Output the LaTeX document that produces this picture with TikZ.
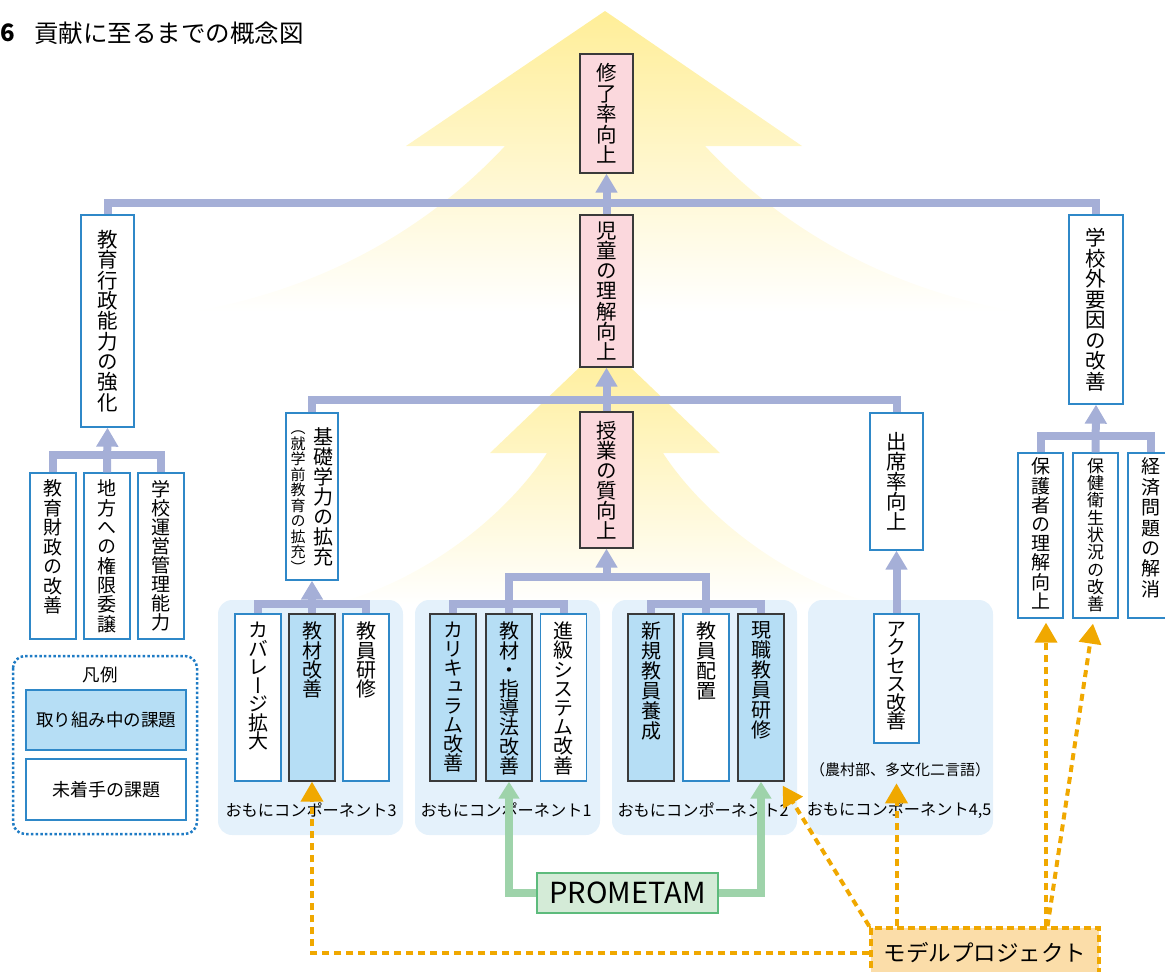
\documentclass[tikz,border=0pt]{standalone}
\usepackage{fontspec}
\setmainfont{Noto Sans CJK JP}
\newfontfamily\vjp[RawFeature=+vert]{Noto Sans CJK JP}
\usetikzlibrary{arrows.meta,calc}
\definecolor{conn}{HTML}{A5AFD7}
\definecolor{bfill}{HTML}{B6DEF5}
\definecolor{bline}{HTML}{2F88C8}
\definecolor{legb}{HTML}{1E7BC4}
\definecolor{pinkf}{HTML}{FBD8DD}
\definecolor{grpbg}{HTML}{E4F1FB}
\definecolor{ylw}{HTML}{FFEE98}
\definecolor{orng}{HTML}{F0A800}
\definecolor{orngf}{HTML}{FBDDA9}
\definecolor{grn}{HTML}{9ED3AA}
\definecolor{grnf}{HTML}{D4EBD7}
\definecolor{grnl}{HTML}{5DBB7C}
\definecolor{darkb}{HTML}{3A3A3A}
\def\vtl#1{\ifx\relax#1\else\hbox to 1em{\hss#1\hss}\expandafter\vtl\fi}
\newcommand\vt[2]{\vtop{\baselineskip=#1\lineskiplimit=-\maxdimen\lineskip=0pt\vtl#2\relax}}
\newcommand\vtt[3]{\vtop to #2{\baselineskip=#1\lineskiplimit=-\maxdimen\lineskip=0pt\vtl#3\relax\vfill}}
\tikzset{
  box/.style={draw, line width=1.3pt, inner sep=0pt, minimum width=46pt},
  pinkbox/.style={box, fill=pinkf, draw=darkb, minimum width=53pt},
  wbig/.style={box, fill=white, draw=bline, minimum width=53pt},
  wbox/.style={box, fill=white, draw=bline},
  bbox/.style={box, fill=bfill, draw=darkb},
  bigf/.style={font=\vjp\fontsize{20.5pt}{21pt}\selectfont},
  chf/.style={font=\vjp\fontsize{19pt}{19pt}\selectfont},
  cpf/.style={font=\vjp\fontsize{20pt}{20pt}\selectfont},
  lbl/.style={font=\fontsize{16.2pt}{17pt}\selectfont, inner sep=0pt},
  cn/.style={draw=conn, line width=8pt},
  cnar/.style={cn, -{Triangle[width=21pt,length=19pt]}},
  og/.style={draw=orng, line width=4pt, dash pattern=on 7pt off 5pt},
  ogar/.style={og, -{Triangle[width=22pt,length=20pt]}},
  gn/.style={draw=grn, line width=8pt},
  gnar/.style={gn, -{Triangle[width=20pt,length=17pt]}},
}
\begin{document}
\begin{tikzpicture}[x=1pt,y=-1pt]
\useasboundingbox (0,0) rectangle (1165,972);
% background trees
\shade[top color=ylw, bottom color=white] (605,11) -- (802,146) -- (705,146) .. controls (760,205) and (860,285) .. (1020,312) -- (190,312) .. controls (350,285) and (450,205) .. (505,146) -- (406,146) -- cycle;
\shade[top color=ylw, bottom color=white] (605,343) -- (720,453) -- (663,453) .. controls (700,510) and (780,580) .. (880,605) -- (330,605) .. controls (430,580) and (510,510) .. (547,453) -- (490,453) -- cycle;
% group backgrounds
\fill[grpbg, rounded corners=14pt] (218,600) rectangle (403,835);
\fill[grpbg, rounded corners=14pt] (415,600) rectangle (600,835);
\fill[grpbg, rounded corners=14pt] (612,600) rectangle (797,835);
\fill[grpbg, rounded corners=14pt] (808,600) rectangle (993,835);
% title
\node[anchor=west, inner sep=0pt, font=\bfseries\fontsize{24pt}{24pt}\selectfont] (num) at (0.5,33) {6};
\node[anchor=west, inner sep=0pt, font=\fontsize{24.5pt}{25pt}\selectfont] (title) at (34,33) {貢献に至るまでの概念図};
% coordinates for bars
\coordinate (yT) at (0,203);
\coordinate (yL) at (0,455);
\coordinate (yM) at (0,400);
\coordinate (yB) at (0,577);
\coordinate (yG) at (0,604);
\coordinate (yR) at (0,436);
% main column
\node[pinkbox, bigf, minimum height=119pt] (shuryo) at (606.5,113.5) {\vt{20.5pt}{修了率向上}};
\node[pinkbox, bigf, minimum height=152pt] (jido) at (606.5,291) {\vt{20.3pt}{児童の理解向上}};
\node[pinkbox, bigf, minimum height=136pt] (jugyo) at (606.5,480) {\vt{20pt}{授業の質向上}};
% big white
\node[wbig, bigf, minimum height=212pt] (gyosei) at (107.5,321) {\vt{20.3pt}{教育行政能力の強化}};
\node[wbig, minimum width=52pt, minimum height=167pt] (kiso) at (312,496.5) {};
\node[inner sep=0pt, anchor=north, font=\vjp\fontsize{20pt}{20pt}\selectfont] (kisoMain) at (323.5,427) {\vt{20pt}{基礎学力の拡充}};
\node[inner sep=0pt, anchor=base, font=\vjp\fontsize{15pt}{15pt}\selectfont] (kisoSub) at (298,433.5) {\vt{15.5pt}{（就学前教育の拡充）}};
\node[wbig, bigf, minimum height=137pt] (shusseki) at (896.5,481.5) {\vt{20pt}{出席率向上}};
\node[wbig, bigf, minimum width=54pt, minimum height=189pt] (kogai) at (1096,309.5) {\vt{20.5pt}{学校外要因の改善}};
% left children
\node[wbox, chf, minimum height=166pt] (zaisei) at (53,556) {\vtt{19.5pt}{152pt}{教育財政の改善}};
\node[wbox, chf, minimum height=166pt] (chiho) at (107,556) {\vtt{19.3pt}{152pt}{地方への権限委譲}};
\node[wbox, chf, minimum height=166pt] (gakko) at (161,556) {\vtt{19pt}{152pt}{学校運営管理能力}};
% right children
\node[wbox, chf, minimum width=45pt, minimum height=165pt] (hogo) at (1040.5,535.5) {\vtt{19.2pt}{155pt}{保護者の理解向上}};
\node[wbox, minimum width=45pt, minimum height=165pt, font=\vjp\fontsize{17pt}{17pt}\selectfont] (hoken) at (1095.5,535.5) {\vtt{17.3pt}{155pt}{保健衛生状況の改善}};
\node[wbox, chf, minimum width=45pt, minimum height=165pt] (keizai) at (1150.5,535.5) {\vtt{20.4pt}{155pt}{経済問題の解消}};
% components
\node[wbox, cpf, minimum height=167pt] (cov) at (258,697.5) {\vtt{18.5pt}{151pt}{カバレージ拡大}};
\node[bbox, cpf, minimum height=167pt] (kz3) at (312,697.5) {\vtt{19.2pt}{151pt}{教材改善}};
\node[wbox, cpf, minimum height=167pt] (kk3) at (366,697.5) {\vtt{19.2pt}{151pt}{教員研修}};
\node[bbox, cpf, minimum height=167pt] (cur) at (453,697.5) {\vtt{19pt}{151pt}{カリキュラム改善}};
\node[bbox, cpf, minimum height=167pt] (kz1) at (509,697.5) {\vtt{19.2pt}{151pt}{教材・指導法改善}};
\node[wbox, cpf, minimum height=167pt] (shin) at (563.5,697.5) {\vtt{19.2pt}{151pt}{進級システム改善}};
\node[bbox, cpf, minimum height=167pt] (new) at (651,697.5) {\vtt{20pt}{151pt}{新規教員養成}};
\node[wbox, cpf, minimum height=167pt] (hai) at (706,697.5) {\vtt{20pt}{151pt}{教員配置}};
\node[bbox, cpf, minimum height=167pt] (gen) at (761,697.5) {\vtt{20pt}{151pt}{現職教員研修}};
\node[wbox, cpf, minimum width=45pt, minimum height=129pt] (access) at (896.5,678.5) {\vtt{18.5pt}{113pt}{アクセス改善}};
% group labels
\node[lbl] (l3) at (311,810) {おもにコンポーネント3};
\node[lbl] (l1) at (506,810) {おもにコンポーネント1};
\node[lbl] (l2) at (703,810) {おもにコンポーネント2};
\node[lbl] (l45) at (899,810) {おもにコンポーネント4,5};
\node[font=\fontsize{15pt}{16pt}\selectfont, inner sep=0pt] (note) at (900,770) {（農村部、多文化二言語）};
% blue-gray connectors
\draw[cn] (zaisei.north) -- (zaisei.north |- yL) -- (gakko.north |- yL) -- (gakko.north);
\draw[cnar] (chiho.north) -- (gyosei.south);
\draw[cn] (gyosei.north) -- (gyosei.north |- yT) -- (kogai.north |- yT) -- (kogai.north);
\draw[cnar] (jido.north) -- (shuryo.south);
\draw[cn] (kiso.north) -- (kiso.north |- yM) -- (shusseki.north |- yM) -- (shusseki.north);
\draw[cnar] (jugyo.north) -- (jido.south);
\draw[cn] (kz1.north) -- (kz1.north |- yB) -- (hai.north |- yB) -- (hai.north);
\draw[cnar] (jugyo.south |- yB) -- (jugyo.south);
\draw[cn] (cov.north) -- (cov.north |- yG) -- (kk3.north |- yG) -- (kk3.north);
\draw[cnar] (kz3.north) -- (kiso.south);
\draw[cn] (cur.north) -- (cur.north |- yG) -- (shin.north |- yG) -- (shin.north);
\draw[cn] (new.north) -- (new.north |- yG) -- (gen.north |- yG) -- (gen.north);
\draw[cnar] (access.north) -- (shusseki.south);
\draw[cn] (hogo.north) -- (hogo.north |- yR) -- (keizai.north |- yR) -- (keizai.north);
\draw[cnar] (hoken.north) -- (kogai.south);
% PROMETAM
\node[draw=grnl, fill=grnf, line width=1.5pt, minimum width=181pt, minimum height=40pt, inner sep=0pt, font=\fontsize{29pt}{29pt}\selectfont] (prom) at (627.5,893) {PROMETAM};
\draw[gnar] (prom.west) -- (kz1.south |- prom.west) -- (kz1.south);
\draw[gnar] (prom.east) -- (gen.south |- prom.east) -- (gen.south);
% model project
\node[draw=orng, fill=orngf, line width=3.5pt, dash pattern=on 7pt off 4pt, minimum width=228pt, minimum height=50pt, inner sep=0pt, font=\fontsize{22.5pt}{23pt}\selectfont] (model) at (985,953) {モデルプロジェクト};
\path (gen.south east) ++(-2,4) coordinate (genTip);
\path (access.south |- note.south) ++(0,6) coordinate (noteTip);
\path (hogo.south) ++(5.5,4) coordinate (hogoTip);
\path (hoken.south) ++(-2.5,5) coordinate (hokenTip);
\path (hogoTip |- model.north) ++(1.5,0) coordinate (mStart);
\draw[ogar] (model.west) -- (kz3.south |- model.west) -- (kz3.south);
\draw[ogar] (model.north west) -- (genTip);
\draw[ogar] (noteTip |- model.north) -- (noteTip);
\draw[ogar] (hogoTip |- model.north) -- (hogoTip);
\draw[ogar] (mStart) -- (hokenTip);
% legend
\draw[legb, line width=2.5pt, dash pattern=on 2.5pt off 2.2pt, rounded corners=12pt] (13,656) rectangle (197,834);
\node[inner sep=0pt, font=\fontsize{17.5pt}{18pt}\selectfont] (legt) at (100,675) {凡例};
\node[draw=bline, fill=bfill, line width=1.3pt, minimum width=160pt, minimum height=60pt, inner sep=0pt, font=\fontsize{17.5pt}{18pt}\selectfont] (leg1) at (106,720) {取り組み中の課題};
\node[draw=bline, fill=white, line width=1.3pt, minimum width=160pt, minimum height=61pt, inner sep=0pt, font=\fontsize{18pt}{18pt}\selectfont] (leg2) at (106,789.5) {未着手の課題};
\end{tikzpicture}
\end{document}
